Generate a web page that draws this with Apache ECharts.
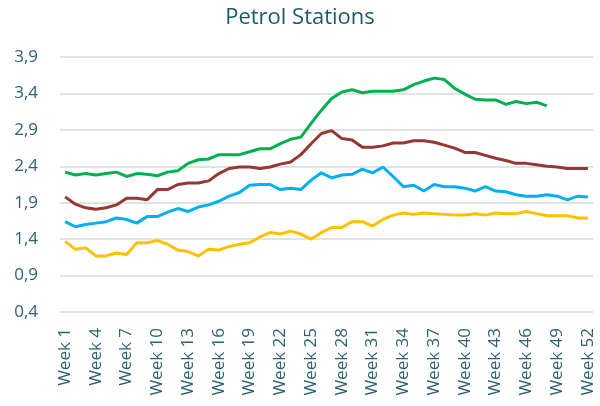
<!DOCTYPE html>
<html>
<head>
<meta charset="utf-8">
<script src="https://cdn.jsdelivr.net/npm/echarts@6/dist/echarts.min.js"></script>
<style>
  html, body { margin: 0; padding: 0; background: #fff; }
  #main { width: 600px; height: 406px; }
</style>
</head>
<body>
<div id="main"></div>
<script>
var weeks = [];
for (var w = 1; w <= 52; w++) { weeks.push('Week ' + w); }

// green line, stops after week 48
var greenData = [2.32, 2.28, 2.30, 2.28, 2.30, 2.32, 2.26, 2.30, 2.29, 2.27,
  2.32, 2.34, 2.44, 2.49, 2.50, 2.56, 2.56, 2.56, 2.60, 2.64,
  2.64, 2.71, 2.77, 2.80, 2.99, 3.17, 3.33, 3.42, 3.45, 3.41,
  3.43, 3.43, 3.43, 3.45, 3.52, 3.57, 3.61, 3.59, 3.47, 3.39,
  3.32, 3.31, 3.31, 3.25, 3.29, 3.26, 3.28, 3.23, null, null,
  null, null];
var redData = [1.98, 1.88, 1.83, 1.81, 1.83, 1.87, 1.96, 1.96, 1.94, 2.08,
  2.08, 2.15, 2.17, 2.17, 2.20, 2.30, 2.37, 2.39, 2.39, 2.37,
  2.39, 2.43, 2.46, 2.56, 2.71, 2.85, 2.89, 2.78, 2.76, 2.66,
  2.66, 2.68, 2.72, 2.72, 2.75, 2.75, 2.73, 2.69, 2.65, 2.59,
  2.59, 2.55, 2.51, 2.48, 2.44, 2.44, 2.42, 2.40, 2.39, 2.37,
  2.37, 2.37];
var blueData = [1.64, 1.57, 1.60, 1.62, 1.64, 1.69, 1.67, 1.62, 1.71, 1.71,
  1.77, 1.82, 1.78, 1.84, 1.87, 1.92, 1.99, 2.04, 2.14, 2.15,
  2.15, 2.08, 2.10, 2.08, 2.21, 2.31, 2.24, 2.28, 2.29, 2.36,
  2.31, 2.39, 2.26, 2.12, 2.14, 2.06, 2.15, 2.12, 2.12, 2.10,
  2.06, 2.12, 2.06, 2.05, 2.01, 1.99, 1.99, 2.01, 1.99, 1.94,
  1.99, 1.98];
var yellowData = [1.37, 1.26, 1.28, 1.17, 1.17, 1.21, 1.19, 1.35, 1.35, 1.38,
  1.33, 1.25, 1.23, 1.17, 1.26, 1.25, 1.30, 1.33, 1.35, 1.43,
  1.49, 1.47, 1.51, 1.47, 1.40, 1.49, 1.56, 1.56, 1.64, 1.64,
  1.58, 1.67, 1.73, 1.76, 1.74, 1.76, 1.75, 1.74, 1.73, 1.73,
  1.75, 1.73, 1.76, 1.75, 1.75, 1.78, 1.75, 1.72, 1.72, 1.72,
  1.69, 1.69];

var textColor = '#2E6170';
var fontName = 'Open Sans';

var myChart = echarts.init(document.getElementById('main'));

function lineSeries(name, data, color) {
  return {
    name: name,
    type: 'line',
    data: data,
    symbol: 'none',
    smooth: false,
    connectNulls: false,
    lineStyle: { color: color, width: 3 },
    itemStyle: { color: color }
  };
}

var option = {
  backgroundColor: '#fff',
  animation: false,
  title: {
    text: 'Petrol Stations',
    left: 'center',
    top: 2,
    textStyle: { color: '#1D5A68', fontFamily: fontName, fontSize: 22, fontWeight: 'normal' }
  },
  grid: { left: 60, right: 7, top: 57, bottom: 94 },
  xAxis: {
    type: 'category',
    data: weeks,
    boundaryGap: true,
    axisLine: { show: false },
    axisTick: { show: false },
    axisLabel: {
      interval: 2,
      rotate: 90,
      margin: 16,
      color: textColor,
      fontFamily: fontName,
      fontSize: 17
    }
  },
  yAxis: {
    type: 'value',
    min: 0.4,
    max: 3.9,
    interval: 0.5,
    axisLine: { show: false },
    axisTick: { show: false },
    splitLine: { lineStyle: { color: '#D9D9D9', width: 1.5 } },
    axisLabel: {
      margin: 22,
      color: textColor,
      fontFamily: fontName,
      fontSize: 17,
      formatter: function (v) { return v.toFixed(1).replace('.', ','); }
    }
  },
  series: [
    lineSeries('Green', greenData, '#00B050'),
    lineSeries('Red', redData, '#953735'),
    lineSeries('Blue', blueData, '#00B0F0'),
    lineSeries('Yellow', yellowData, '#FFC000')
  ]
};

myChart.setOption(option);
</script>
</body>
</html>
